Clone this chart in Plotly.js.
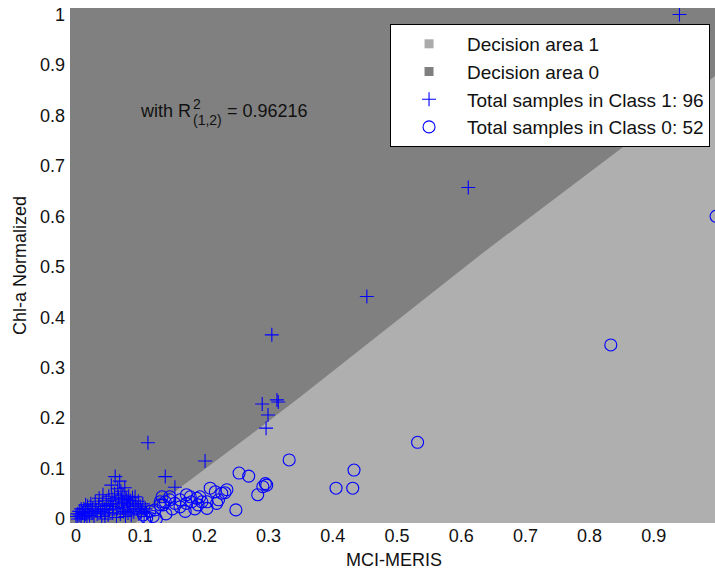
<!DOCTYPE html>
<html>
<head>
<meta charset="utf-8">
<script src="https://cdn.plot.ly/plotly-3.0.1.min.js"></script>
<style>
  html, body { margin: 0; padding: 0; background: #ffffff; overflow: hidden; }
  #chart { width: 720px; height: 573px; }
</style>
</head>
<body>
<div id="chart"></div>
<script>
// ---- Data ----
// Class 1 samples (plus markers), 96 points
const class1X = [
  0.940, 0.611, 0.453, 0.305, 0.313, 0.290, 0.299, 0.296, 0.201, 0.112, 0.139, 0.154, 0.315,
  0.000, 0.002, 0.003, 0.005, 0.006, 0.008, 0.010, 0.012, 0.013, 0.015,
  0.017, 0.018, 0.020, 0.021, 0.023, 0.025, 0.026, 0.028, 0.030, 0.031,
  0.033, 0.035, 0.036, 0.038, 0.040, 0.041, 0.042, 0.044, 0.045, 0.047,
  0.048, 0.050, 0.051, 0.052, 0.054, 0.055, 0.056, 0.057, 0.058, 0.060,
  0.061, 0.062, 0.063, 0.064, 0.065, 0.066, 0.067, 0.068, 0.069, 0.070,
  0.071, 0.072, 0.073, 0.074, 0.075, 0.076, 0.077, 0.078, 0.079, 0.080,
  0.081, 0.082, 0.083, 0.084, 0.085, 0.086, 0.088, 0.089, 0.090, 0.092,
  0.093, 0.095, 0.097, 0.098, 0.100, 0.102, 0.104, 0.106, 0.108, 0.110,
  0.015, 0.008, 0.045
];
const class1Y = [
  1.000, 0.657, 0.441, 0.365, 0.236, 0.228, 0.206, 0.180, 0.115, 0.151, 0.084, 0.063, 0.232,
  0.005, 0.010, 0.000, 0.015, 0.008, 0.002, 0.012, 0.020, 0.005, 0.010,
  0.000, 0.025, 0.015, 0.007, 0.030, 0.012, 0.020, 0.004, 0.035, 0.018,
  0.010, 0.025, 0.041, 0.015, 0.005, 0.030, 0.048, 0.020, 0.012, 0.036,
  0.027, 0.008, 0.045, 0.018, 0.030, 0.067, 0.040, 0.012, 0.025, 0.050,
  0.084, 0.035, 0.003, 0.020, 0.060, 0.043, 0.030, 0.075, 0.010, 0.055,
  0.038, 0.022, 0.047, 0.015, 0.032, 0.062, 0.005, 0.040, 0.038, 0.026,
  0.012, 0.045, 0.030, 0.018, 0.036, 0.008, 0.042, 0.025, 0.014, 0.044,
  0.030, 0.020, 0.035, 0.010, 0.025, 0.015, 0.030, 0.005, 0.020, 0.012,
  0.028, 0.020, 0.000
];
// Class 0 samples (circle markers), 52 points
const class0X = [
  0.997, 0.833, 0.532, 0.433, 0.431, 0.405, 0.332,
  0.254, 0.269, 0.297, 0.291, 0.283, 0.249, 0.295,
  0.105, 0.115, 0.120, 0.123, 0.131, 0.131, 0.134, 0.136, 0.139, 0.146,
  0.146, 0.154, 0.162, 0.162, 0.172, 0.172, 0.178, 0.180, 0.188, 0.190,
  0.193, 0.196, 0.204, 0.204, 0.209, 0.217, 0.219, 0.222, 0.227, 0.232, 0.235,
  0.110, 0.125, 0.140, 0.150, 0.170, 0.185
];
const class0Y = [
  0.600, 0.345, 0.152, 0.097, 0.061, 0.061, 0.117,
  0.091, 0.085, 0.067, 0.064, 0.048, 0.018, 0.070,
  0.008, 0.015, 0.005, 0.018, 0.028, 0.034, 0.044, 0.028, 0.034, 0.038,
  0.044, 0.031, 0.024, 0.038, 0.031, 0.048, 0.044, 0.034, 0.041, 0.028,
  0.044, 0.034, 0.021, 0.034, 0.061, 0.054, 0.031, 0.038, 0.051, 0.052, 0.058,
  0.002, 0.000, 0.010, 0.020, 0.015, 0.020
];
// Decision boundary between the two areas, read along its edge
const boundaryX = [0.092, 0.167, 0.2815, 0.349, 0.629, 0.863, 1.000];
const boundaryY = [-0.008, 0.067, 0.176, 0.242, 0.523, 0.748, 0.883];

const legendNames = [
  'Decision area 1',
  'Decision area 0',
  'Total samples in Class 1: 96',
  'Total samples in Class 0: 52'
];
const xTicks = [0, 0.1, 0.2, 0.3, 0.4, 0.5, 0.6, 0.7, 0.8, 0.9, 1];
const yTicks = [0, 0.1, 0.2, 0.3, 0.4, 0.5, 0.6, 0.7, 0.8, 0.9, 1];

// ---- Styling ----
const xRange = [-0.0094, 1.0];
const yRange = [-0.008, 1.013];
const DARK = '#808080';
const LIGHT = '#afafaf';
const BLUE = '#0000ff';
const FONT = 'Liberation Sans, Arial, sans-serif';

// light region polygon: below/right of boundary, extended past the axes (clipped)
const ext = 0.05;
const lightX = boundaryX.slice();
const lightY = boundaryY.slice();
lightX.push(xRange[1] + ext, xRange[1] + ext, boundaryX[0]);
lightY.push(boundaryY[boundaryY.length - 1] + ext, yRange[0] - ext, yRange[0] - ext);
// dark region polygon: above/left of boundary
const darkX = boundaryX.slice();
const darkY = boundaryY.slice();
darkX.push(xRange[1] + ext, xRange[0] - ext, xRange[0] - ext, boundaryX[0]);
darkY.push(yRange[1] + ext, yRange[1] + ext, yRange[0] - ext, yRange[0] - ext);

const traces = [
  { x: darkX, y: darkY, type: 'scatter', mode: 'lines', fill: 'toself',
    fillcolor: DARK, line: { width: 0, color: DARK }, showlegend: false, hoverinfo: 'skip' },
  { x: lightX, y: lightY, type: 'scatter', mode: 'lines', fill: 'toself',
    fillcolor: LIGHT, line: { width: 0, color: LIGHT }, showlegend: false, hoverinfo: 'skip' },
  // legend entries for the two areas
  { x: [null], y: [null], type: 'scatter', mode: 'markers', name: legendNames[0],
    legendgroup: 'a1', marker: { symbol: 'square', size: 9, color: '#ababab' } },
  { x: [null], y: [null], type: 'scatter', mode: 'markers', name: legendNames[1],
    legendgroup: 'a0', marker: { symbol: 'square', size: 9, color: '#7f7f7f' } },
  { x: class1X, y: class1Y, type: 'scatter', mode: 'markers', name: legendNames[2],
    legendgroup: 'c1',
    marker: { symbol: 'cross-thin-open', size: 10, color: BLUE, line: { width: 1.1, color: BLUE } } },
  { x: class0X, y: class0Y, type: 'scatter', mode: 'markers', name: legendNames[3],
    legendgroup: 'c0',
    marker: { symbol: 'circle-open', size: 12, color: BLUE, line: { width: 1.1, color: BLUE } } }
];

const annFont = { family: FONT, size: 18, color: '#111' };
const smallFont = { family: FONT, size: 14, color: '#111' };

const layout = {
  width: 720,
  height: 573,
  margin: { l: 70, r: 2, t: 8, b: 50, pad: 0 },
  paper_bgcolor: '#ffffff',
  plot_bgcolor: DARK,
  font: { family: FONT, size: 18, color: '#111' },
  showlegend: true,
  legend: {
    x: 0.9877, y: 0.969, xanchor: 'right', yanchor: 'top',
    bgcolor: '#ffffff', bordercolor: '#000000', borderwidth: 1,
    font: { family: FONT, size: 19, color: '#111' },
    traceorder: 'grouped', tracegroupgap: 0, itemwidth: 66
  },
  xaxis: {
    range: xRange, tickvals: xTicks, ticks: '', showgrid: false, zeroline: false,
    showline: false, tickfont: { family: FONT, size: 18, color: '#111' },
    title: { text: 'MCI-MERIS', font: { family: FONT, size: 18, color: '#111' }, standoff: 8 },
    automargin: false
  },
  yaxis: {
    range: yRange, tickvals: yTicks, ticks: '', showgrid: false, zeroline: false,
    showline: false, tickfont: { family: FONT, size: 18, color: '#111' },
    ticklabelstandoff: 4,
    title: { text: 'Chl-a Normalized', font: { family: FONT, size: 18, color: '#111' }, standoff: 8 },
    automargin: false
  },
  annotations: [
    { xref: 'x', yref: 'y', x: 0.098, y: 0.809, text: 'with R', showarrow: false,
      xanchor: 'left', yanchor: 'middle', font: annFont, borderpad: 0 },
    { xref: 'x', yref: 'y', x: 0.180, y: 0.822, text: '2', showarrow: false,
      xanchor: 'left', yanchor: 'middle', font: smallFont, borderpad: 0 },
    { xref: 'x', yref: 'y', x: 0.180, y: 0.791, text: '(1,2)', showarrow: false,
      xanchor: 'left', yanchor: 'middle', font: smallFont, borderpad: 0 },
    { xref: 'x', yref: 'y', x: 0.233, y: 0.809, text: '= 0.96216', showarrow: false,
      xanchor: 'left', yanchor: 'middle', font: annFont, borderpad: 0 }
  ]
};

Plotly.newPlot('chart', traces, layout, { displayModeBar: false, staticPlot: true });
</script>
</body>
</html>
